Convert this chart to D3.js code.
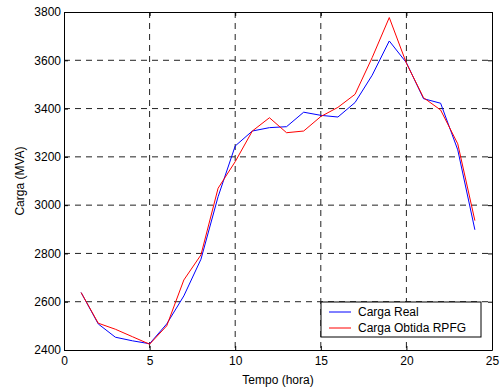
<!DOCTYPE html>
<html>
<head>
<meta charset="utf-8">
<script src="https://cdn.jsdelivr.net/npm/d3@7"></script>
<style>
  body { margin: 0; background: #fff; }
  text { font-family: "Liberation Sans", Arial, sans-serif; }
</style>
</head>
<body>
<div id="chart"></div>
<script>
const hours = d3.range(1, 25);
const cargaReal = [2638, 2508, 2453, 2438, 2426, 2508, 2624, 2776, 3035, 3245, 3307, 3321,
                   3325, 3385, 3372, 3365, 3425, 3538, 3680, 3590, 3441, 3422, 3229, 2898];
const cargaRPFG = [2638, 2511, 2486, 2455, 2424, 2500, 2690, 2794, 3070, 3180, 3307, 3362,
                   3300, 3307, 3367, 3405, 3459, 3611, 3777, 3588, 3445, 3394, 3254, 2936];
const xTicks = [0, 5, 10, 15, 20, 25];
const yTicks = [2400, 2600, 2800, 3000, 3200, 3400, 3600, 3800];
const seriesNames = ["Carga Real", "Carga Obtida RPFG"];
const seriesColors = ["#0000ff", "#ff0000"];

const width = 502, height = 389;
const margin = {top: 12, right: 10, bottom: 39, left: 64};
const w = width - margin.left - margin.right;
const h = height - margin.top - margin.bottom;

const svg = d3.select('#chart').append('svg')
  .attr('width', width)
  .attr('height', height);

const g = svg.append('g').attr('transform', `translate(${margin.left},${margin.top})`);

const x = d3.scaleLinear().domain([0, 25]).range([0, w]);
const y = d3.scaleLinear().domain([2400, 3800]).range([h, 0]);

// grid
g.selectAll('.vgrid').data(xTicks.slice(1, -1)).enter().append('line')
  .attr('x1', d => x(d)).attr('x2', d => x(d))
  .attr('y1', 0).attr('y2', h)
  .attr('stroke', '#222').attr('stroke-width', 1).attr('stroke-dasharray', '6,5');
g.selectAll('.hgrid').data(yTicks.slice(1, -1)).enter().append('line')
  .attr('x1', 0).attr('x2', w)
  .attr('y1', d => y(d)).attr('y2', d => y(d))
  .attr('stroke', '#222').attr('stroke-width', 1).attr('stroke-dasharray', '6,5');

// axes
const fmt = d3.format('d');
const xAxis = g.append('g').attr('transform', `translate(0,${h})`)
  .call(d3.axisBottom(x).tickValues(xTicks).tickFormat(fmt).tickSizeInner(-4).tickSizeOuter(0).tickPadding(6));
const yAxis = g.append('g')
  .call(d3.axisLeft(y).tickValues(yTicks).tickFormat(fmt).tickSizeInner(-4).tickSizeOuter(0).tickPadding(3));
const xTop = g.append('g')
  .call(d3.axisTop(x).tickValues(xTicks).tickSizeInner(-4).tickSizeOuter(0).tickFormat(''));
const yRight = g.append('g').attr('transform', `translate(${w},0)`)
  .call(d3.axisRight(y).tickValues(yTicks).tickSizeInner(-4).tickSizeOuter(0).tickFormat(''));
[xAxis, yAxis, xTop, yRight].forEach(a => {
  a.selectAll('text').attr('font-size', 12).attr('fill', '#000')
    .style('font-family', '"Liberation Sans", Arial, sans-serif');
  a.select('.domain').attr('stroke', '#000');
});

// lines
const line = d3.line().x((d, i) => x(hours[i])).y(d => y(d));
[cargaReal, cargaRPFG].forEach((s, i) => {
  g.append('path').datum(s)
    .attr('fill', 'none')
    .attr('stroke', seriesColors[i])
    .attr('stroke-width', 1)
    .attr('d', line);
});

// axis titles
svg.append('text')
  .attr('x', margin.left + w / 2).attr('y', 384)
  .attr('text-anchor', 'middle').attr('font-size', 12)
  .text('Tempo (hora)');
svg.append('text')
  .attr('transform', `translate(24,${margin.top + h / 2}) rotate(-90)`)
  .attr('text-anchor', 'middle').attr('font-size', 12)
  .text('Carga (MVA)');

// legend
const legend = svg.append('g').attr('transform', 'translate(321,302)');
legend.append('rect')
  .attr('width', 160).attr('height', 35)
  .attr('fill', '#fff').attr('stroke', '#000');
seriesNames.forEach((name, i) => {
  const ly = 10 + i * 16;
  legend.append('line')
    .attr('x1', 8).attr('x2', 30).attr('y1', ly).attr('y2', ly)
    .attr('stroke', seriesColors[i]);
  legend.append('text')
    .attr('x', 37).attr('y', ly + 4).attr('font-size', 12)
    .text(name);
});
</script>
</body>
</html>
